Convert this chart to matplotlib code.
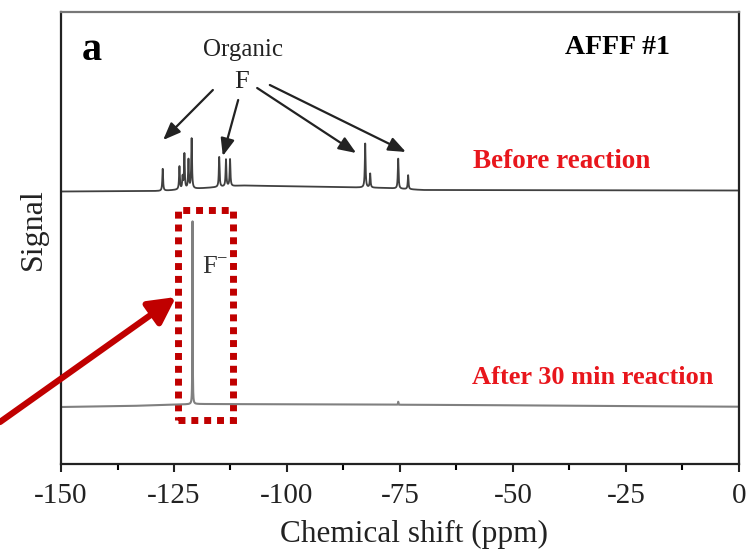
import numpy as np
import matplotlib
matplotlib.use("Agg")
import matplotlib.pyplot as plt
from matplotlib.patches import Rectangle

plt.rcParams['font.family'] = ['Liberation Serif', 'DejaVu Serif']
plt.rcParams['axes.unicode_minus'] = False

# peaks (ppm, height above baseline)
top_ppm = [-127.5, -123.8, -123.1, -122.7, -121.8, -121.1, -115.0, -113.5, -112.6,
           -82.7, -81.6, -75.4, -73.2]
top_h = [22, 23, 12, 35, 29, 50, 30, 27, 27, 44, 14, 30, 14]
bot_ppm = [-120.9, -75.4]
bot_h = [183, 3]

# baseline levels (ppm, level)
top_base_ppm = [-150, -128, -118, -110, -90, -78, -70, 0]
top_base = [272.5, 273, 276, 278.5, 277, 276, 274, 273.5]
bot_base_ppm = [-150, -135, -120, -100, -60, -30, 0]
bot_base = [57, 58, 60, 59.7, 59, 58, 57.3]

ticks = [-150, -125, -100, -75, -50, -25, 0]

x = np.linspace(-150, 0, 20000)


def spectrum(pos, h, bpos, base, w=0.1):
    y = np.interp(x, bpos, base)
    for p, a in zip(pos, h):
        y = y + a * w**2 / ((x - p)**2 + w**2)
    return y


fig = plt.figure(figsize=(7.52, 5.5), dpi=100)
ax = fig.add_axes([61/752, 1-464/550, 678/752, 452/550])

ax.plot(x, spectrum(top_ppm, top_h, top_base_ppm, top_base), color='#404040', lw=1.3)
ax.plot(x, spectrum(bot_ppm, bot_h, bot_base_ppm, bot_base, w=0.04), color='#808080', lw=1.5)

ax.set_xlim(-150, 0)
ax.set_ylim(0, 452)
ax.set_xticks(ticks)
ax.set_xticklabels([str(t) for t in ticks])
ax.set_xticks(np.arange(-137.5, 0, 25), minor=True)
ax.set_yticks([])
ax.tick_params(axis='x', which='major', direction='out', length=6, width=1.5,
               labelsize=21, pad=8, colors='#222222')
ax.tick_params(axis='x', which='minor', direction='out', length=4, width=1.5)
for s in ['left', 'right', 'bottom']:
    ax.spines[s].set_linewidth(1.6)
    ax.spines[s].set_color('#222222')
ax.spines['top'].set_linewidth(1.6)
ax.spines['top'].set_color('#777777')

ax.set_xlabel('Chemical shift (ppm)', fontsize=22.5, color='#222222')
ax.xaxis.set_label_coords(0.52, -0.124)
ax.set_ylabel('Signal', fontsize=23, color='#222222')
ax.yaxis.set_label_coords(-0.02, 0.52)

# texts
ax.text(-143.1, 414, 'a', fontsize=29, fontweight='bold', ha='center', va='center')
ax.text(-109.7, 414, 'Organic', fontsize=18, ha='center', va='center', color='#222222')
ax.text(-110.0, 382, 'F', fontsize=19, ha='center', va='center', color='#222222')
ax.text(-26.8, 417, 'AFFF #1', fontsize=20, fontweight='bold', ha='center', va='center')
ax.text(-39.2, 302, 'Before reaction', fontsize=19.5, fontweight='bold', ha='center',
        va='center', color='#e8161c')
ax.text(-32.3, 86, 'After 30 min reaction', fontsize=19, fontweight='bold', ha='center',
        va='center', color='#e8161c')
ax.text(-118.8, 196, 'F$^{\\mathregular{-}}$', fontsize=19, ha='left', va='center',
        color='#333333')

# black arrows from "F" to the peaks
arrows = [((-116.4, 374), (-127.4, 324)),
          ((-110.8, 364), (-114.2, 308)),
          ((-106.6, 376), (-84.7, 311)),
          ((-103.8, 379), (-73.7, 312))]
for start, end in arrows:
    ax.annotate('', xy=end, xytext=start,
                arrowprops=dict(arrowstyle='-|>,head_length=0.7,head_width=0.28',
                                mutation_scale=15, lw=1.6, color='#222222',
                                shrinkA=0, shrinkB=0))

# red dotted box and red arrow
ax.add_patch(Rectangle((-124.1, 44), 12.15, 210, fill=False, edgecolor='#c00000',
                       lw=5, linestyle=(0, (1, 0.85))))
ax.annotate('', xy=(-124.56, 167), xycoords='data', xytext=(0, 128),
            textcoords='figure pixels', annotation_clip=False,
            arrowprops=dict(arrowstyle='-|>,head_length=0.8,head_width=0.42',
                            mutation_scale=20, lw=4.5, color='#c00000',
                            shrinkA=0, shrinkB=0))

fig.savefig('out.png', dpi=100)
